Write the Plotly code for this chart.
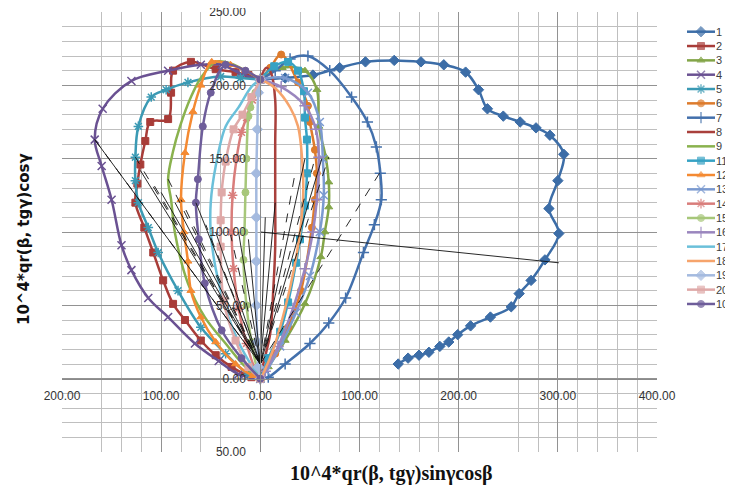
import plotly.graph_objects as go

# ---------------- data ----------------
x1 = [0, 25, 53, 80, 106, 135, 162, 185, 207, 220, 229, 245, 262, 278, 292, 306, 300, 291, 301, 287, 273, 261, 253, 232, 212, 199, 190, 181, 170, 160, 149, 139]
y1 = [204, 205, 207, 212, 216, 217, 216, 214, 209, 197, 184, 179, 175, 171, 166, 153, 135, 116, 99, 81, 67, 58, 49, 42, 36, 30, 25, 22, 18, 16, 14, 10]

x2 = [0, -12, -25, -45, -70, -88, -90, -93, -111, -116, -121, -124, -126, -117, -108, -98, -88, -76, -60, -45, -29, -9, 0]
y2 = [204, 207, 209, 211, 216, 210, 195, 177, 175, 162, 146, 133, 120, 103, 86, 67, 51, 40, 26, 16, 8, 1, 0]

x3 = [0, 22, 45, 57, 59, 66, 69, 69, 65, 61, 45, 25, 8, 0]
y3 = [204, 212, 210, 197, 172, 151, 134, 117, 100, 83, 51, 26, 8, 0]

x4 = [0, -20, -39, -60, -93, -130, -159, -167, -160, -150, -140, -130, -113, -93, -66, -42, -22, 0]
y4 = [204, 208, 214, 214, 210, 203, 184, 163, 145, 122, 91, 74, 55, 42, 24, 12, 3, 0]

x5 = [0, -20, -40, -73, -95, -110, -123, -126, -126, -123, -113, -103, -83, -60, -35, -12, 0]
y5 = [204, 205, 206, 202, 197, 192, 172, 151, 135, 120, 103, 86, 60, 35, 17, 3, 0]

x6 = [0, 10, 21, 38, 48, 50, 55, 57, 55, 52, 41, 28, 15, 1, 0]
y6 = [204, 212, 221, 202, 186, 175, 156, 140, 122, 103, 60, 35, 17, 3, 0]

x7 = [0, 15, 30, 48, 70, 92, 108, 117, 121, 122, 115, 104, 86, 69, 50, 25, 8, 0]
y7 = [204, 210, 218, 220, 210, 192, 175, 158, 140, 122, 105, 86, 55, 38, 24, 10, 1, 0]

x8 = [0, 6, 11, 15, 15, 15, 15, 13, 10, 3, 0]
y8 = [204, 212, 208, 190, 160, 122, 90, 60, 31, 10, 0]

x9 = [0, -15, -30, -45, -60, -70, -81, -88, -93, -90, -86, -73, -56, -35, -15, 0]
y9 = [204, 210, 215, 216, 205, 192, 172, 155, 136, 122, 99, 65, 42, 24, 8, 0]

x11 = [0, 14, 28, 38, 44, 45, 47, 47, 45, 40, 36, 28, 20, 8, 0]
y11 = [204, 213, 216, 210, 196, 178, 163, 140, 118, 95, 79, 52, 32, 14, 0]

x12 = [0, -15, -30, -49, -60, -68, -76, -80, -77, -73, -70, -60, -45, -25, -8, 0]
y12 = [204, 210, 214, 216, 200, 182, 154, 122, 100, 80, 60, 42, 25, 10, 2, 0]

x13 = [0, 25, 48, 60, 63, 64, 60, 50, 36, 20, 6, 0]
y13 = [204, 205, 195, 175, 150, 125, 100, 70, 45, 22, 5, 0]

x14 = [0, -8, -14, -19, -24, -28, -29, -27, -22, -14, -5, 0]
y14 = [204, 190, 178, 168, 150, 125, 100, 75, 48, 24, 6, 0]

x15 = [0, -5, -10, -12, -14, -15, -16, -17, -14, -9, -3, 0]
y15 = [204, 195, 185, 179, 150, 127, 100, 81, 50, 25, 6, 0]

x16 = [0, 21, 45, 56, 59, 57, 53, 45, 33, 18, 5, 0]
y16 = [204, 199, 186, 170, 151, 122, 100, 75, 48, 22, 5, 0]

x17 = [0, -9, -22, -35, -45, -50, -50, -45, -35, -22, -8, 0]
y17 = [204, 199, 185, 172, 145, 120, 100, 75, 48, 25, 8, 0]

x18 = [0, 15, 30, 38, 43, 43, 40, 34, 25, 14, 4, 0]
y18 = [204, 198, 185, 172, 140, 122, 100, 75, 48, 22, 5, 0]

x19 = [0, -2, -3, -4, -4, -4, -4, -3, -2, 0]
y19 = [204, 195, 170, 140, 110, 80, 50, 25, 8, 0]

x20 = [0, -9, -18, -27, -35, -39, -40, -40, -37, -25, -12, 0]
y20 = [204, 192, 180, 170, 148, 127, 108, 90, 53, 26, 8, 0]

x10 = [0, -15, -35, -50, -58, -63, -65, -62, -56, -39, -19, 0]
y10 = [204, 210, 214, 195, 172, 136, 120, 95, 65, 33, 14, 0]

# thin black construction rays from a common point
ray_origin = (0, 10)
ray_solid_x = [-167, -121, -100, -86, -65, -45, -22, -12, 5, 15, 45, 62]
ray_solid_y = [163, 142, 127, 120, 120, 100, 100, 95, 110, 120, 150, 150]
ray_dash_x = [-167, -126, -110, -93, -80, -55, -30, 35, 55, 69, 121]
ray_dash_y = [163, 151, 135, 136, 122, 105, 98, 140, 150, 151, 141]
long_line_x = [0, 301]
long_line_y = [100, 79]

series_names = ["1", "2", "3", "4", "5", "6", "7", "8", "9", "11", "12", "13",
                "14", "15", "16", "17", "18", "19", "20", "10"]

x_tick_vals = [-200, -100, 0, 100, 200, 300, 400]
x_tick_text = ["200.00", "100.00", "0.00", "100.00", "200.00", "300.00", "400.00"]
y_tick_vals = [-50, 0, 50, 100, 150, 200, 250]
y_tick_text = ["50.00", "0.00", "50.00", "100.00", "150.00", "200.00", "250.00"]

x_title = "10^4*qr(β, tgγ)sinγcosβ"
y_title = "10^4*qr(β, tgγ)cosγ"

series_xy = {
    "1": (x1, y1), "2": (x2, y2), "3": (x3, y3), "4": (x4, y4), "5": (x5, y5),
    "6": (x6, y6), "7": (x7, y7), "8": (x8, y8), "9": (x9, y9), "11": (x11, y11),
    "12": (x12, y12), "13": (x13, y13), "14": (x14, y14), "15": (x15, y15),
    "16": (x16, y16), "17": (x17, y17), "18": (x18, y18), "19": (x19, y19),
    "20": (x20, y20), "10": (x10, y10),
}

# ---------------- styles ----------------
colors = {
    "1": "#3C6DA7", "2": "#A83C38", "3": "#83A548", "4": "#6A5192", "5": "#3B9AB4",
    "6": "#DD7B2C", "7": "#4370AC", "8": "#A9403C", "9": "#8AB24E", "11": "#36A2C4",
    "12": "#F48A32", "13": "#7B9AD0", "14": "#D97D7B", "15": "#A7C77A", "16": "#9A86BE",
    "17": "#6BC0DA", "18": "#F6A46C", "19": "#A4BADF", "20": "#DFA9A8", "10": "#6E5D9A",
}
symbols = {
    "1": "diamond", "2": "square", "3": "triangle-up", "4": "x-thin", "5": "asterisk",
    "6": "circle", "7": "cross-thin", "8": None, "9": None, "11": "square",
    "12": "triangle-up", "13": "x-thin", "14": "asterisk", "15": "circle",
    "16": "cross-thin", "17": None, "18": None, "19": "diamond", "20": "square",
    "10": "circle",
}
line_symbols = {"x-thin", "cross-thin", "asterisk"}

# page body has an 8px margin -> lay out in figure pixels shifted by OFF
OFF = 8
W, H = 733, 486
PL, PR, PT, PB = 62 - OFF, 657 - OFF, 12 - OFF, 452 - OFF
xdom = [PL / W, PR / W]
ydom = [(H - PB) / H, (H - PT) / H]
xr = [-200, 400]
yr = [-50, 250]
x0_paper = xdom[0] + (0 - xr[0]) / (xr[1] - xr[0]) * (xdom[1] - xdom[0])
y0_paper = ydom[0] + (0 - yr[0]) / (yr[1] - yr[0]) * (ydom[1] - ydom[0])

fig = go.Figure()


def marker_for(name):
    sym = symbols[name]
    c = colors[name]
    if sym is None:
        return dict(size=0, color=c), "lines"
    if sym in line_symbols:
        return dict(symbol=sym, size=8, color=c,
                    line=dict(color=c, width=1.5)), "lines+markers"
    sz = {"diamond": 8, "square": 7, "triangle-up": 7, "circle": 7}[sym]
    return dict(symbol=sym, size=sz, color=c,
                line=dict(color=c, width=1)), "lines+markers"


for name in series_names:
    xs, ys = series_xy[name]
    mk, mode = marker_for(name)
    fig.add_trace(go.Scatter(
        x=xs, y=ys, mode=mode, name=name, showlegend=False,
        line=dict(color=colors[name], width=2.5, shape="spline", smoothing=1.0),
        marker=mk, xaxis="x", yaxis="y", hoverinfo="skip"))


def ray_xy(xs, ys):
    rx, ry = [], []
    for a, b in zip(xs, ys):
        rx += [ray_origin[0], a, None]
        ry += [ray_origin[1], b, None]
    return rx, ry


rx, ry = ray_xy(ray_solid_x, ray_solid_y)
fig.add_trace(go.Scatter(x=rx, y=ry, mode="lines", showlegend=False,
                         line=dict(color="#111111", width=0.9), hoverinfo="skip"))
rx, ry = ray_xy(ray_dash_x, ray_dash_y)
fig.add_trace(go.Scatter(x=rx, y=ry, mode="lines", showlegend=False,
                         line=dict(color="#111111", width=0.9, dash="dash"), hoverinfo="skip"))
fig.add_trace(go.Scatter(x=long_line_x, y=long_line_y, mode="lines", showlegend=False,
                         line=dict(color="#111111", width=0.9), hoverinfo="skip"))

# ---------------- hand-made legend on a helper axis (screen pixels) ----------------
LEG_X0, LEG_X1 = 687, 715
LEG_Y0, LEG_DY = 31.7, 14.33
annotations = []
for i, name in enumerate(series_names):
    yy = LEG_Y0 + i * LEG_DY
    mk, mode = marker_for(name)
    base = mk.get("size", 0)
    mk = dict(mk)
    mk["size"] = [0, base, 0]
    fig.add_trace(go.Scatter(
        x=[LEG_X0, (LEG_X0 + LEG_X1) / 2, LEG_X1], y=[yy, yy, yy],
        mode="lines+markers", showlegend=False, hoverinfo="skip",
        line=dict(color=colors[name], width=2.5), marker=mk,
        xaxis="x2", yaxis="y2", cliponaxis=False))
    annotations.append(dict(x=LEG_X1 - 1, y=yy, xref="x2", yref="y2", text=name,
                            showarrow=False, xanchor="left", yanchor="middle",
                            font=dict(family="Liberation Sans", size=11, color="#404040")))

annotations.append(dict(x=(391 - OFF) / W, y=(H - (473 - OFF)) / H, xref="paper", yref="paper",
                        text="<b>" + x_title + "</b>", showarrow=False,
                        xanchor="center", yanchor="middle",
                        font=dict(family="Liberation Serif", size=20, color="#111111")))
annotations.append(dict(x=(24 - OFF) / W, y=(H - (239 - OFF)) / H, xref="paper", yref="paper",
                        text="<b>" + y_title + "</b>", showarrow=False, textangle=-90,
                        xanchor="center", yanchor="middle",
                        font=dict(family="DejaVu Sans", size=15, color="#111111")))

# minor grid positions (some lines are absent in the original)
missing_x = {-180, -20, 20, 220, 240}
minor_x = [v for v in range(-200, 401, 20) if v % 100 != 0 and v not in missing_x]
minor_y = [v for v in range(-50, 251, 10) if v % 50 != 0]

tick_font = dict(family="Liberation Sans", size=12, color="#333333")

fig.update_layout(
    width=W, height=H, margin=dict(l=0, r=0, t=0, b=0, autoexpand=False),
    paper_bgcolor="white", plot_bgcolor="white",
    showlegend=False,
    xaxis=dict(domain=xdom, range=xr, anchor="free", position=y0_paper,
               automargin=False, ticklabeloverflow="allow",
               tickmode="array", tickvals=x_tick_vals, ticktext=x_tick_text,
               ticks="", ticklabelstandoff=6, tickfont=tick_font,
               showgrid=True, gridcolor="#929292", gridwidth=1,
               minor=dict(tickmode="array", tickvals=minor_x, showgrid=True,
                          gridcolor="#bfbfbf", gridwidth=1, ticks=""),
               zeroline=False, showline=True, linecolor="#8a8a8a", linewidth=1,
               fixedrange=True),
    yaxis=dict(domain=ydom, range=yr, anchor="free", position=x0_paper,
               automargin=False, ticklabeloverflow="allow",
               tickmode="array", tickvals=y_tick_vals, ticktext=y_tick_text,
               ticks="", ticklabelstandoff=12, tickfont=tick_font,
               showgrid=True, gridcolor="#929292", gridwidth=1,
               minor=dict(tickmode="array", tickvals=minor_y, showgrid=True,
                          gridcolor="#bfbfbf", gridwidth=1, ticks=""),
               zeroline=False, showline=True, linecolor="#8a8a8a", linewidth=1,
               fixedrange=True),
    xaxis2=dict(domain=[(680 - OFF) / W, 1.0], range=[680, W + OFF], anchor="y2",
                visible=False, fixedrange=True, automargin=False),
    yaxis2=dict(domain=[0, 1], range=[H + OFF, OFF], anchor="x2",
                visible=False, fixedrange=True, automargin=False),
    annotations=annotations,
)

fig.write_html("out.html")
